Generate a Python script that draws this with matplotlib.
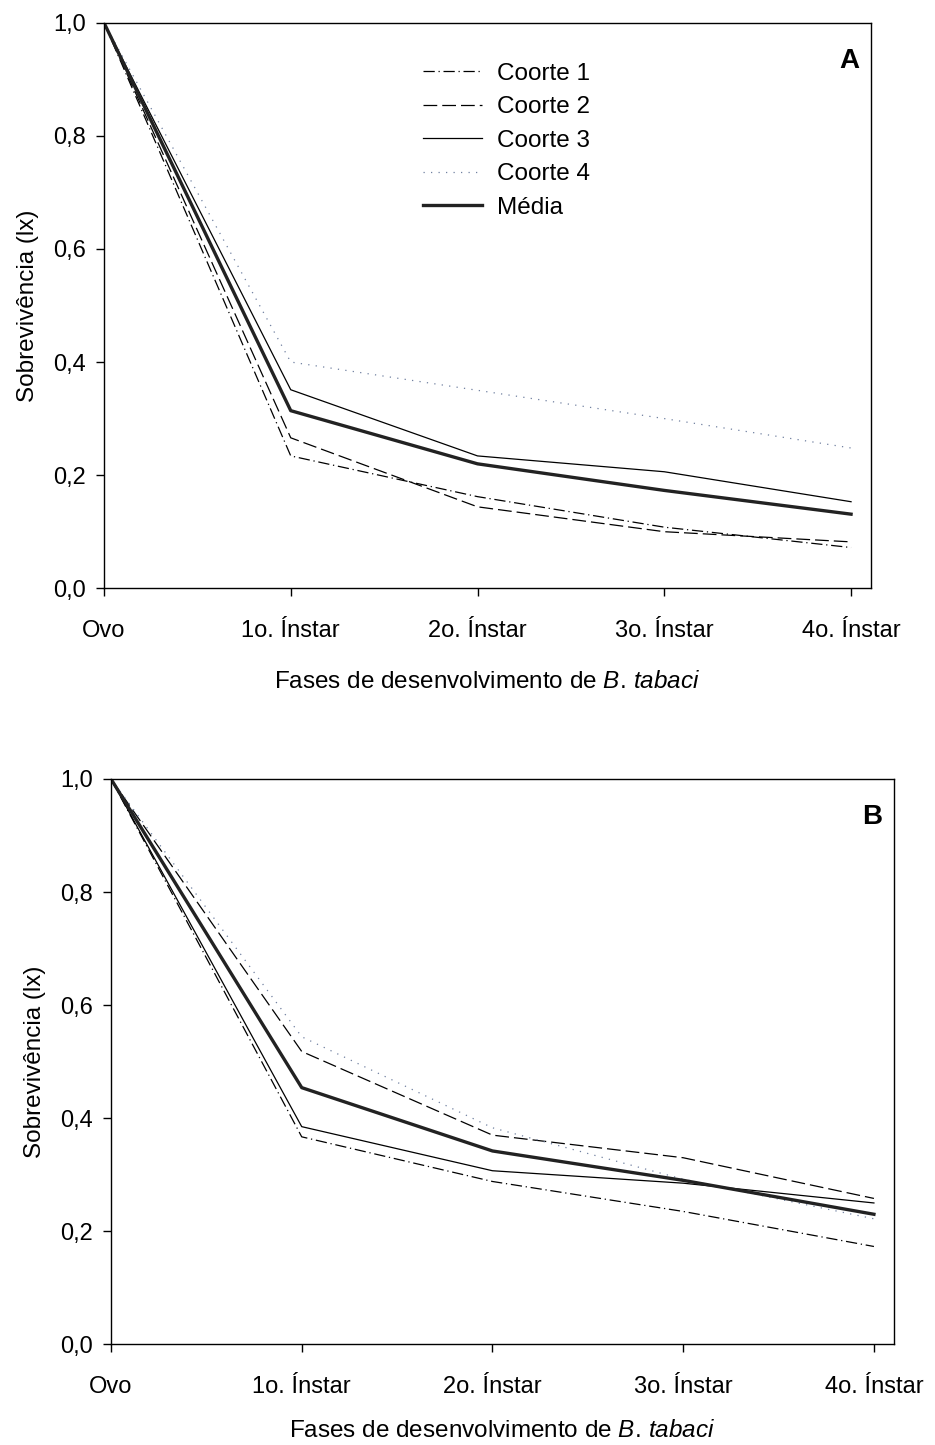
import matplotlib
matplotlib.use("Agg")
import matplotlib.pyplot as plt

plt.rcParams['font.family'] = ['Liberation Sans', 'DejaVu Sans']
plt.rcParams['mathtext.fontset'] = 'custom'
plt.rcParams['mathtext.rm'] = 'Liberation Sans'
plt.rcParams['mathtext.it'] = 'Liberation Sans:italic'

# fases de desenvolvimento
fases = ["Ovo", "1o. Ínstar", "2o. Ínstar", "3o. Ínstar", "4o. Ínstar"]
y_ticks = [0.0, 0.2, 0.4, 0.6, 0.8, 1.0]
y_labels = ["0,0", "0,2", "0,4", "0,6", "0,8", "1,0"]

# painel A
a_coorte1 = [1.0, 0.234, 0.162, 0.108, 0.072]
a_coorte2 = [1.0, 0.266, 0.144, 0.100, 0.082]
a_coorte3 = [1.0, 0.351, 0.234, 0.206, 0.153]
a_coorte4 = [1.0, 0.400, 0.350, 0.300, 0.248]
a_media = [1.0, 0.314, 0.220, 0.173, 0.131]

# painel B
b_coorte1 = [1.0, 0.367, 0.288, 0.235, 0.173]
b_coorte2 = [1.0, 0.518, 0.370, 0.330, 0.258]
b_coorte3 = [1.0, 0.385, 0.307, 0.285, 0.250]
b_coorte4 = [1.0, 0.544, 0.383, 0.292, 0.222]
b_media = [1.0, 0.454, 0.342, 0.290, 0.230]

labels = ["Coorte 1", "Coorte 2", "Coorte 3", "Coorte 4", "Média"]
estilos = [
    dict(color='black', lw=0.9, dashes=(9, 3, 1, 3)),
    dict(color='black', lw=0.9, dashes=(11, 4)),
    dict(color='black', lw=0.9, ls='-'),
    dict(color='#7080a0', lw=0.9, dashes=(1, 5)),
    dict(color='#222222', lw=2.4, ls='-'),
]

fig = plt.figure(figsize=(9.35, 14.45), dpi=100)
ax_a = fig.add_axes([0.1112, 0.5929, 0.8200, 0.3914])
ax_b = fig.add_axes([0.1187, 0.0697, 0.8374, 0.3912])

x = list(range(len(fases)))

def desenha(ax, series, letra, legenda, lpad):
    for serie, lab, st in zip(series, labels, estilos):
        ax.plot(x, serie, label=lab, **st)
    ax.set_xlim(0, 4.105)
    ax.set_ylim(0, 1.0)
    ax.set_yticks(y_ticks)
    ax.set_yticklabels(y_labels)
    ax.set_xticks(x)
    ax.set_xticklabels(fases)
    ax.tick_params(direction='out', length=6, width=1, labelsize=17, pad=7)
    ax.tick_params(axis='x', pad=17)
    for s in ax.spines.values():
        s.set_linewidth(1)
    ax.set_xlabel(r"Fases de desenvolvimento de $B.\,tabaci$", fontsize=17.5, labelpad=lpad)
    ax.set_ylabel("Sobrevivência (lx)", fontsize=17.5, labelpad=10)
    ax.text(0.985, 0.955, letra, transform=ax.transAxes, ha='right', va='top',
            fontsize=20, fontweight='bold')
    if legenda:
        ax.legend(loc='upper left', bbox_to_anchor=(0.416, 0.929), frameon=False,
                  fontsize=17.5, handlelength=2.45, handletextpad=0.6,
                  labelspacing=0.47, borderpad=0, borderaxespad=0)

desenha(ax_a, [a_coorte1, a_coorte2, a_coorte3, a_coorte4, a_media], "A", True, 21)
desenha(ax_b, [b_coorte1, b_coorte2, b_coorte3, b_coorte4, b_media], "B", False, 16)

fig.savefig("out.png", dpi=100)
